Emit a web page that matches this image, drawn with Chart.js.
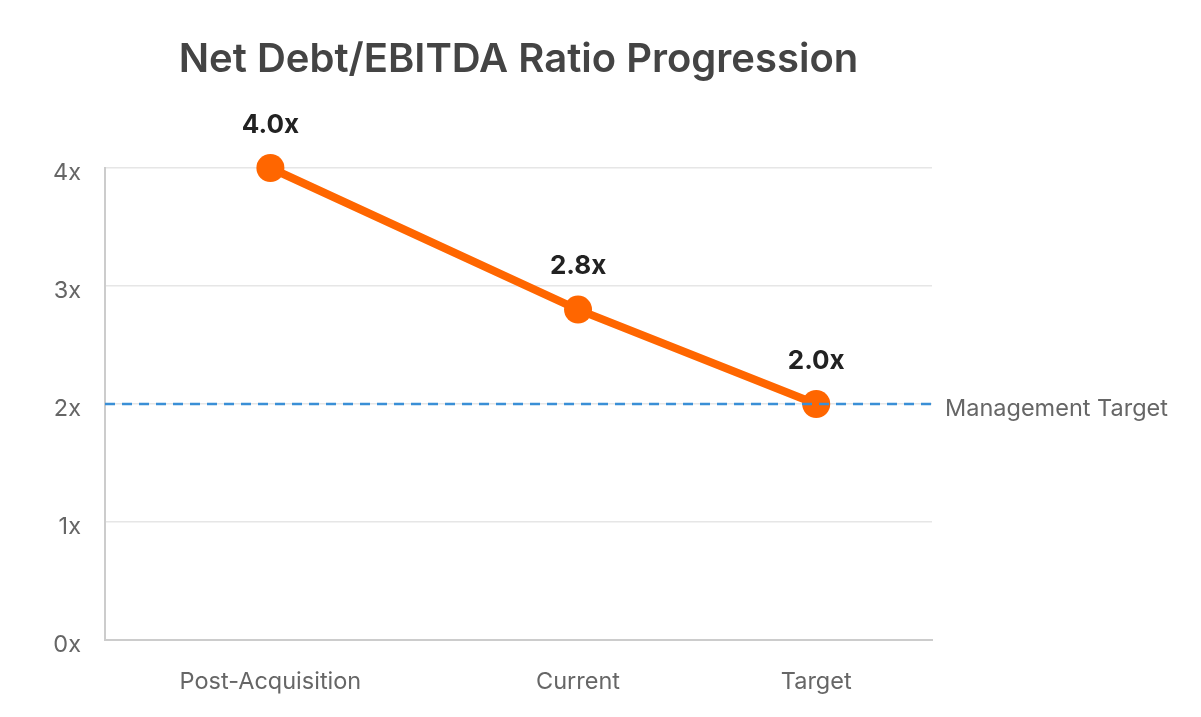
<!DOCTYPE html>
<html>
<head>
<meta charset="utf-8">
<script src="https://cdn.jsdelivr.net/npm/chart.js@4.4.1/dist/chart.umd.min.js"></script>
<style>
  html, body { margin: 0; padding: 0; background: #fff; }
  #wrap { width: 1201px; height: 717px; }
</style>
</head>
<body>
<div id="wrap"><canvas id="ratioChart" width="1201" height="717"></canvas></div>
<script>
// categories and where they sit along the timeline
const periods = ['Post-Acquisition', 'Current', 'Target'];
const periodPos = [2, 5.72, 8.6];
const ratios = [4.0, 2.8, 2.0];
const targetRatio = 2.0;
const yTicks = [0, 1, 2, 3, 4];

const FONT = 'Inter, "Noto Sans", sans-serif';
const TITLE = 'Net Debt/EBITDA Ratio Progression';

// title over the plot, value labels above points, label for the target line
const labelPlugin = {
    id: 'labelPlugin',
    afterDatasetsDraw(chart) {
        const ctx = chart.ctx;
        const area = chart.chartArea;
        ctx.save();
        ctx.textBaseline = 'middle';

        ctx.font = '600 40px ' + FONT;
        ctx.fillStyle = '#444';
        ctx.textAlign = 'center';
        ctx.fillText(TITLE, (area.left + area.right) / 2, 60);

        const meta = chart.getDatasetMeta(1);
        ctx.font = 'bold 26px ' + FONT;
        ctx.fillStyle = '#222';
        meta.data.forEach((pt, i) => {
            ctx.fillText(ratios[i].toFixed(1) + 'x', pt.x, pt.y - 43);
        });

        const y = chart.scales.y.getPixelForValue(targetRatio);
        ctx.font = '23.5px ' + FONT;
        ctx.fillStyle = '#666';
        ctx.textAlign = 'left';
        ctx.fillText('Management Target', area.right + 13, y + 5);
        ctx.restore();
    }
};

new Chart(document.getElementById('ratioChart'), {
    type: 'line',
    data: {
        datasets: [
            {
                label: 'Management Target',
                data: [{ x: 0, y: targetRatio }, { x: 10, y: targetRatio }],
                borderColor: '#3a8fd6',
                borderWidth: 2.5,
                borderDash: [10, 7],
                pointRadius: 0,
                order: 0
            },
            {
                label: 'Net Debt/EBITDA',
                data: periodPos.map((x, i) => ({ x: x, y: ratios[i] })),
                borderColor: '#ff6600',
                backgroundColor: '#ff6600',
                borderWidth: 8,
                pointRadius: 14,
                pointBackgroundColor: '#ff6600',
                pointBorderWidth: 0,
                clip: false,
                order: 1
            }
        ]
    },
    options: {
        responsive: false,
        animation: false,
        layout: { padding: { left: 0, right: 269, top: 168, bottom: 0 } },
        plugins: {
            legend: { display: false },
            tooltip: { enabled: false },
            title: { display: false }
        },
        scales: {
            x: {
                type: 'linear',
                min: 0,
                max: 10,
                afterBuildTicks(axis) { axis.ticks = periodPos.map(v => ({ value: v })); },
                afterFit(axis) { axis.height = 77; },
                ticks: {
                    callback: (v) => periods[periodPos.indexOf(v)] || '',
                    color: '#666',
                    font: { family: FONT, size: 23.5 },
                    padding: 28,
                    maxRotation: 0,
                    autoSkip: false
                },
                grid: { display: false, drawTicks: false },
                border: { color: '#cccccc', width: 2 }
            },
            y: {
                min: 0,
                max: 4,
                afterBuildTicks(axis) { axis.ticks = yTicks.map(v => ({ value: v })); },
                afterFit(axis) { axis.width = 105; },
                ticks: {
                    callback: (v) => v + 'x',
                    color: '#666',
                    font: { family: FONT, size: 23.5 },
                    padding: 24,
                    labelOffset: 5
                },
                grid: { color: '#e6e6e6', lineWidth: 1.5, drawTicks: false },
                border: { color: '#cccccc', width: 2 }
            }
        }
    },
    plugins: [labelPlugin]
});
</script>
</body>
</html>
